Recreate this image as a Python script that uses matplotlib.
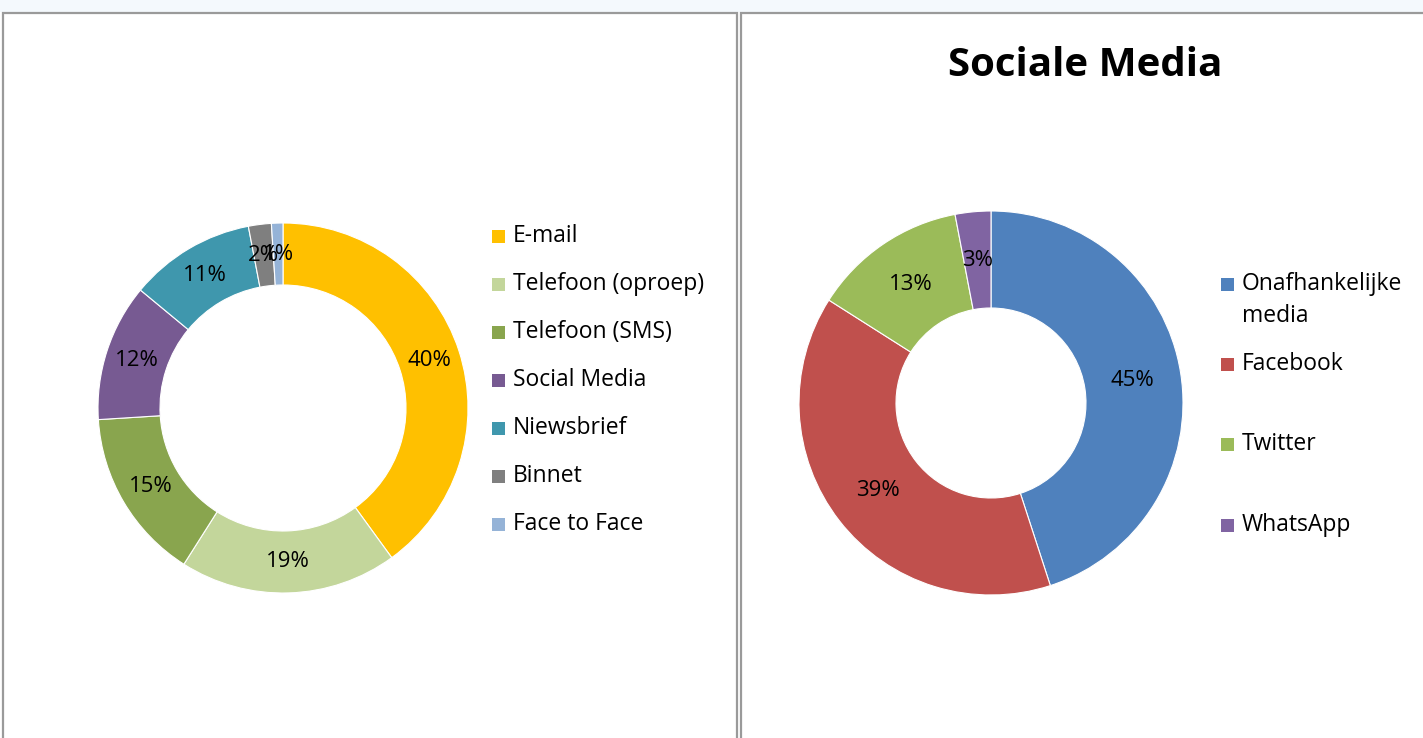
import matplotlib.pyplot as plt
from matplotlib.patches import Rectangle

plt.rcParams['font.family'] = ['Open Sans', 'DejaVu Sans']

# left chart: communication channels
kanalen = ["E-mail", "Telefoon (oproep)", "Telefoon (SMS)", "Social Media",
           "Niewsbrief", "Binnet", "Face to Face"]
kanalen_pct = [40, 19, 15, 12, 11, 2, 1]
kanalen_kleur = ["#FFC000", "#C3D69B", "#89A54E", "#775A92",
                 "#3F97AD", "#7F7F7F", "#95B3D7"]

# right chart: social media
media = ["Onafhankelijke\nmedia", "Facebook", "Twitter", "WhatsApp"]
media_pct = [45, 39, 13, 3]
media_kleur = ["#4F81BD", "#C0504D", "#9BBB59", "#8064A2"]

W, H = 1423, 738
fig = plt.figure(figsize=(W / 100, H / 100), dpi=100)
fig.patch.set_facecolor("white")


def px_axes(cx, cy, r):
    # axes square around a pixel centre (y from top)
    return fig.add_axes([(cx - r) / W, (H - cy - r) / H, 2 * r / W, 2 * r / H])


def donut(ax, vals, cols, r_in, pctd):
    ax.pie(vals, colors=cols, startangle=90, counterclock=False, radius=1,
           wedgeprops=dict(width=1 - r_in, edgecolor="white", linewidth=0.8),
           autopct=lambda p: "%d%%" % round(p), pctdistance=pctd,
           textprops=dict(fontsize=16, color="black"))
    ax.set_xlim(-1, 1)
    ax.set_ylim(-1, 1)
    ax.set_aspect("equal")
    ax.axis("off")


# background frames
bg = fig.add_axes([0, 0, 1, 1])
bg.set_xlim(0, W)
bg.set_ylim(H, 0)
bg.axis("off")
bg.add_patch(Rectangle((0, 0), W, 12, facecolor="#F4F9FD", edgecolor="none"))
bg.add_patch(Rectangle((3, 13), 734, 740, facecolor="white", edgecolor="#9A9A9A", lw=1.6))
bg.add_patch(Rectangle((741, 13), 700, 740, facecolor="white", edgecolor="#9A9A9A", lw=1.6))

ax1 = px_axes(283, 408, 185)
donut(ax1, kanalen_pct, kanalen_kleur, 123 / 185, 154 / 185)

ax2 = px_axes(991, 403, 192)
donut(ax2, media_pct, media_kleur, 95 / 192, 143.5 / 192)

fig.text(1085 / W, 1 - 66 / H, "Sociale Media", fontsize=29, fontweight="bold",
         ha="center", va="center")

# legends
for i, (lab, col) in enumerate(zip(kanalen, kanalen_kleur)):
    y = 236 + 48 * i
    bg.add_patch(Rectangle((492, y - 6), 13, 13, facecolor=col, edgecolor="none"))
    bg.text(513, y, lab, fontsize=16.5, va="center", ha="left")

media_y = [300, 364, 444, 525]
for lab, col, y in zip(media, media_kleur, media_y):
    sq_y = y - 16 if "\n" in lab else y
    bg.add_patch(Rectangle((1221, sq_y - 6), 13, 13, facecolor=col, edgecolor="none"))
    bg.text(1242, y, lab, fontsize=16.5, va="center", ha="left", linespacing=1.45)

fig.savefig("out.png", dpi=100)
